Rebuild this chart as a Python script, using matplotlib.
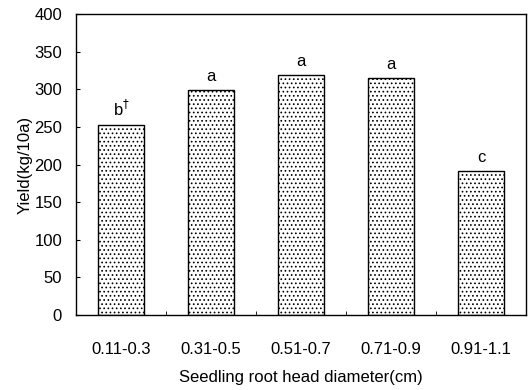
import matplotlib.pyplot as plt
import matplotlib as mpl

plt.rcParams['font.family'] = ['Liberation Sans', 'DejaVu Sans']
mpl.rcParams['hatch.color'] = '#9a9a9a'
mpl.rcParams['hatch.linewidth'] = 0.7

clases = ['0.11-0.3', '0.31-0.5', '0.51-0.7', '0.71-0.9', '0.91-1.1']
rendimiento = [253, 299, 319, 315, 192]
letras = ['b$^{\\dagger}$', 'a', 'a', 'a', 'c']

fig = plt.figure(figsize=(5.31, 3.9), dpi=100)
ax = fig.add_axes([0.143, 0.192, 0.848, 0.772])

x = range(len(clases))
ax.bar(x, rendimiento, width=0.51, color='white', edgecolor='black',
       linewidth=1.0, hatch='....')
for i in x:
    ax.text(i, rendimiento[i] + 8, letras[i], ha='center', va='bottom', fontsize=12)

ax.set_xlim(-0.5, 4.5)
ax.set_ylim(0, 400)
ax.set_yticks(range(0, 401, 50))
ax.set_xticks(list(x))
ax.set_xticklabels(clases)
ax.set_xticks([0.5, 1.5, 2.5, 3.5], minor=True)
ax.tick_params(axis='x', which='major', length=0, pad=19, labelsize=12)
ax.tick_params(axis='x', which='minor', length=3, direction='in')
ax.tick_params(axis='y', length=3, direction='in', labelsize=12, pad=10)
for s in ax.spines.values():
    s.set_linewidth(1.0)

ax.set_xlabel('Seedling root head diameter(cm)', fontsize=12, labelpad=10)
ax.set_ylabel('Yield(kg/10a)', fontsize=12, labelpad=1)

fig.savefig('out.png', dpi=100)
